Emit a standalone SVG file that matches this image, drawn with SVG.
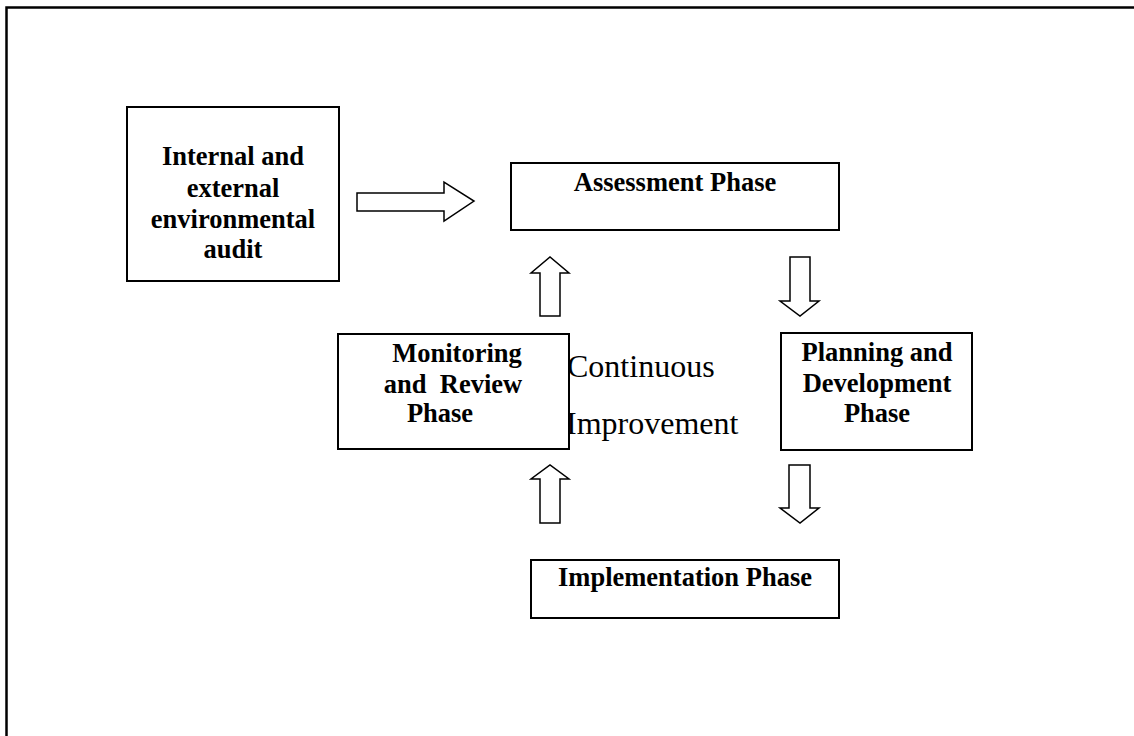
<svg xmlns="http://www.w3.org/2000/svg" width="1134" height="736" viewBox="0 0 1134 736">
<style>
.box{fill:#fff;stroke:#000;stroke-width:2}
.arr{fill:#fff;stroke:#000;stroke-width:1.5;stroke-linejoin:miter}
.b{font-family:"Liberation Serif","Times New Roman",serif;font-weight:bold;font-size:26.5px;fill:#000}
.c{font-family:"Liberation Serif","Times New Roman",serif;font-size:32px;fill:#000}
.frame{stroke:#000;stroke-width:2.5;fill:none}
</style>
<rect width="1134" height="736" fill="#fff"/>
<path class="frame" d="M6.5,736 V7.5 H1134"/>
<g id="label-ci">
<text class="c" x="567" y="377">Continuous</text>
<text class="c" x="566" y="434">Improvement</text>
</g>
<g id="audit">
<rect class="box" x="127" y="107" width="212" height="174"/>
<text class="b" text-anchor="middle" x="233" y="165">Internal and</text>
<text class="b" text-anchor="middle" x="233" y="197">external</text>
<text class="b" text-anchor="middle" x="233" y="228">environmental</text>
<text class="b" text-anchor="middle" x="233" y="258">audit</text>
</g>
<g id="assessment">
<rect class="box" x="511" y="163" width="328" height="67"/>
<text class="b" text-anchor="middle" x="675" y="191">Assessment Phase</text>
</g>
<g id="monitoring">
<rect class="box" x="338" y="334" width="231" height="115"/>
<text class="b" text-anchor="middle" x="457" y="362">Monitoring</text>
<text class="b" text-anchor="middle" x="453" y="393" xml:space="preserve">and  Review</text>
<text class="b" text-anchor="middle" x="440" y="422">Phase</text>
</g>
<g id="planning">
<rect class="box" x="781" y="333" width="191" height="117"/>
<text class="b" text-anchor="middle" x="877" y="361">Planning and</text>
<text class="b" text-anchor="middle" x="877" y="392">Development</text>
<text class="b" text-anchor="middle" x="877" y="422">Phase</text>
</g>
<g id="implementation">
<rect class="box" x="531" y="560" width="308" height="58"/>
<text class="b" text-anchor="middle" x="685" y="586">Implementation Phase</text>
</g>
<g id="connectors">
<polygon class="arr" points="357,193 444,193 444,182 474,201 444,221 444,211 357,211"/>
<polygon class="arr" points="540,316 540,273 531,273 550,257 569,273 560,273 560,316"/>
<polygon class="arr" points="790,257 810,257 810,301 819,301 800,316 780,301 790,301"/>
<polygon class="arr" points="540,523 540,479 531,479 550,465 569,479 560,479 560,523"/>
<polygon class="arr" points="789,465 810,465 810,508 819,508 800,523 780,508 789,508"/>
</g>
</svg>
